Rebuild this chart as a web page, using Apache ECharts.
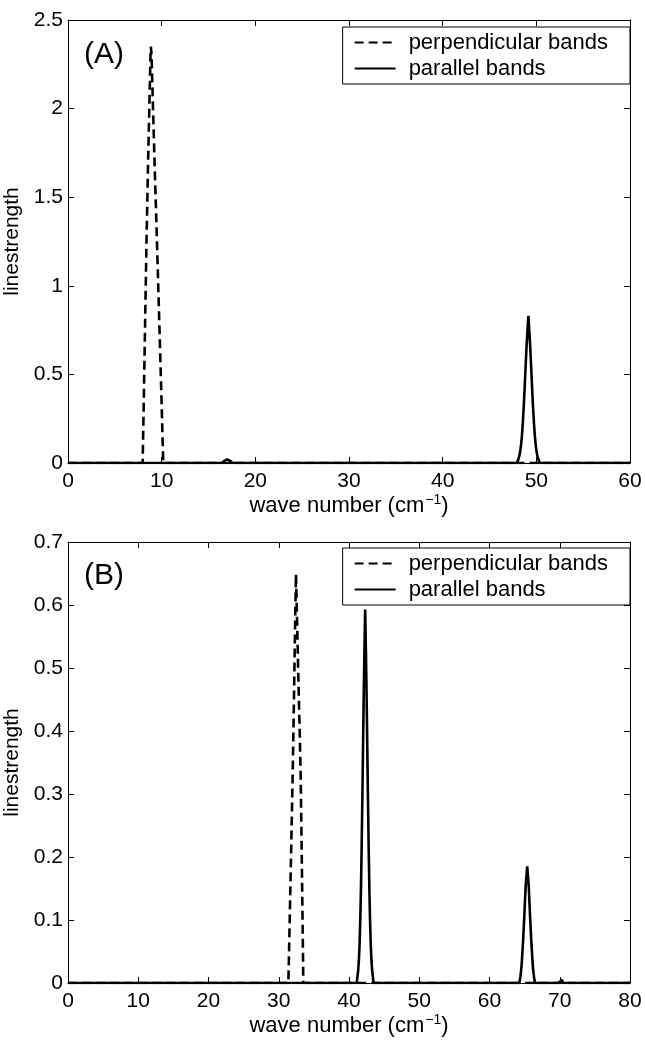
<!DOCTYPE html>
<html>
<head>
<meta charset="utf-8">
<script src="https://cdn.jsdelivr.net/npm/echarts@6/dist/echarts.min.js"></script>
<style>
  html, body { margin: 0; padding: 0; background: #fff; }
  #chart { width: 645px; height: 1042px; }
</style>
</head>
<body>
<div id="chart"></div>
<script>
// ---- Data ----
const seriesNames = ['perpendicular bands', 'parallel bands'];
const panelLabels = ['(A)', '(B)'];

// Panel A : x 0..60, y 0..2.5
const xTicksA = { min: 0, max: 60, interval: 10 };
const yTicksA = { min: 0, max: 2.5, interval: 0.5 };
const perpA = [
  [0, 0], [7.97, 0], [8.1, 0.38], [8.25, 0.85], [8.4, 1.3], [8.55, 1.7], [8.7, 2.05],
  [8.8, 2.28], [8.85, 2.35], [8.92, 2.3], [9.05, 2.05], [9.25, 1.68], [9.47, 1.3],
  [9.7, 0.88], [9.95, 0.42], [10.17, 0], [60, 0]
];
const paraA = [
  [0, 0], [16.4, 0], [16.7, 0.012], [17.0, 0.02], [17.3, 0.012], [17.6, 0],
  [47.95, 0], [48.05, 0.017], [48.15, 0.032], [48.25, 0.056], [48.35, 0.093], [48.45, 0.147],
  [48.55, 0.221], [48.65, 0.314], [48.75, 0.422], [48.85, 0.539], [48.95, 0.651], [49.05, 0.745],
  [49.15, 0.83], [49.25, 0.745], [49.35, 0.651], [49.45, 0.539], [49.55, 0.422], [49.65, 0.314],
  [49.75, 0.221], [49.85, 0.147], [49.95, 0.093], [50.05, 0.056], [50.15, 0.032], [50.25, 0.017],
  [50.35, 0], [60, 0]
];

// Panel B : x 0..80, y 0..0.7
const xTicksB = { min: 0, max: 80, interval: 10 };
const yTicksB = { min: 0, max: 0.7, interval: 0.1 };
const perpB = [
  [0, 0], [31.37, 0], [31.6, 0.12], [31.8, 0.23], [31.98, 0.33], [32.15, 0.44], [32.3, 0.55],
  [32.45, 0.649], [32.6, 0.58], [32.8, 0.48], [33.0, 0.39], [33.12, 0.33], [33.3, 0.18],
  [33.5, 0], [80, 0]
];
const paraB = [
  [0, 0], [41.1, 0], [41.2, 0.01], [41.3, 0.019], [41.4, 0.035], [41.5, 0.06], [41.6, 0.097],
  [41.7, 0.149], [41.8, 0.215], [41.9, 0.293], [42.0, 0.378], [42.1, 0.461], [42.2, 0.531],
  [42.3, 0.593], [42.4, 0.531], [42.5, 0.461], [42.6, 0.378], [42.7, 0.293], [42.8, 0.215],
  [42.9, 0.149], [43.0, 0.097], [43.1, 0.06], [43.2, 0.035], [43.3, 0.019], [43.4, 0.01],
  [43.5, 0],
  [64.25, 0], [64.4, 0.01], [64.55, 0.025], [64.75, 0.06], [64.95, 0.105], [65.15, 0.155],
  [65.37, 0.185], [65.58, 0.155], [65.78, 0.105], [65.98, 0.06], [66.18, 0.025], [66.33, 0.01],
  [66.48, 0], [69.8, 0], [70.3, 0.005], [70.5, 0], [80, 0]
];

// ---- Chart ----
const FONT = '"Liberation Sans", Arial, Helvetica, sans-serif';
const chart = echarts.init(document.getElementById('chart'), null, { renderer: 'canvas' });

const xName = '{a|wave number (cm}{s|\u22121}{a|)}';
const nameRich = {
  a: { fontSize: 22, fontFamily: FONT, color: '#000' },
  s: { fontSize: 14, fontFamily: FONT, color: '#000', padding: [0, 0, 13, 1] }
};

function xAxes(t, gridIndex) {
  const common = {
    type: 'value', gridIndex, min: t.min, max: t.max, interval: t.interval,
    splitLine: { show: false },
    axisLine: { show: true, onZero: false, lineStyle: { color: '#000', width: 1 } },
    axisTick: { show: true, inside: true, length: 6, lineStyle: { color: '#000', width: 1 } }
  };
  return [
    Object.assign({}, common, {
      position: 'bottom',
      axisLabel: { show: true, fontSize: 21, fontFamily: FONT, color: '#000', margin: 8 },
      name: xName, nameLocation: 'middle', nameGap: 24,
      nameTextStyle: { rich: nameRich }
    }),
    Object.assign({}, common, { position: 'top', axisLabel: { show: false } })
  ];
}
function yAxes(t, gridIndex) {
  const common = {
    type: 'value', gridIndex, min: t.min, max: t.max, interval: t.interval,
    splitLine: { show: false },
    axisLine: { show: true, onZero: false, lineStyle: { color: '#000', width: 1 } },
    axisTick: { show: true, inside: true, length: 6, lineStyle: { color: '#000', width: 1 } }
  };
  return [
    Object.assign({}, common, {
      position: 'left',
      axisLabel: { show: true, fontSize: 21, fontFamily: FONT, color: '#000', margin: 5 },
      name: 'linestrength', nameLocation: 'middle', nameGap: 36,
      nameTextStyle: { fontSize: 21, fontFamily: FONT, color: '#000' }
    }),
    Object.assign({}, common, { position: 'right', axisLabel: { show: false } })
  ];
}

function lineSeries(name, data, xi, yi, dashed) {
  return {
    name, type: 'line', data, xAxisIndex: xi, yAxisIndex: yi,
    symbol: 'none', showSymbol: false, smooth: false, animation: false,
    z: dashed ? 2 : 3,
    lineStyle: { color: '#000', width: 2.6, type: dashed ? [9, 5] : 'solid' },
    itemStyle: { color: '#000' }
  };
}

function legendAt(top) {
  return {
    orient: 'vertical', right: 15, top,
    data: seriesNames,
    itemWidth: 41, itemHeight: 14, itemGap: 3,
    padding: [4, 22, 4, 11],
    borderColor: '#000', borderWidth: 1, backgroundColor: '#fff',
    selectedMode: false,
    itemStyle: { opacity: 0 },
    textStyle: { fontSize: 22, fontFamily: FONT, color: '#000', lineHeight: 23, padding: [0, 0, 0, 8] }
  };
}

const option = {
  backgroundColor: '#fff',
  animation: false,
  title: [
    { text: panelLabels[0], left: 79, top: 35, textStyle: { fontSize: 30, fontWeight: 'normal', fontFamily: FONT, color: '#000' } },
    { text: panelLabels[1], left: 79, top: 556, textStyle: { fontSize: 30, fontWeight: 'normal', fontFamily: FONT, color: '#000' } }
  ],
  grid: [
    { left: 68, top: 20, width: 562, height: 443, outerBoundsMode: 'none', containLabel: false },
    { left: 68, top: 542, width: 562, height: 441, outerBoundsMode: 'none', containLabel: false }
  ],
  xAxis: [...xAxes(xTicksA, 0), ...xAxes(xTicksB, 1)],
  yAxis: [...yAxes(yTicksA, 0), ...yAxes(yTicksB, 1)],
  legend: [legendAt(27), legendAt(548)],
  series: [
    lineSeries(seriesNames[0], perpA, 0, 0, true),
    lineSeries(seriesNames[1], paraA, 0, 0, false),
    lineSeries(seriesNames[0], perpB, 2, 2, true),
    lineSeries(seriesNames[1], paraB, 2, 2, false)
  ]
};
chart.setOption(option);
</script>
</body>
</html>
